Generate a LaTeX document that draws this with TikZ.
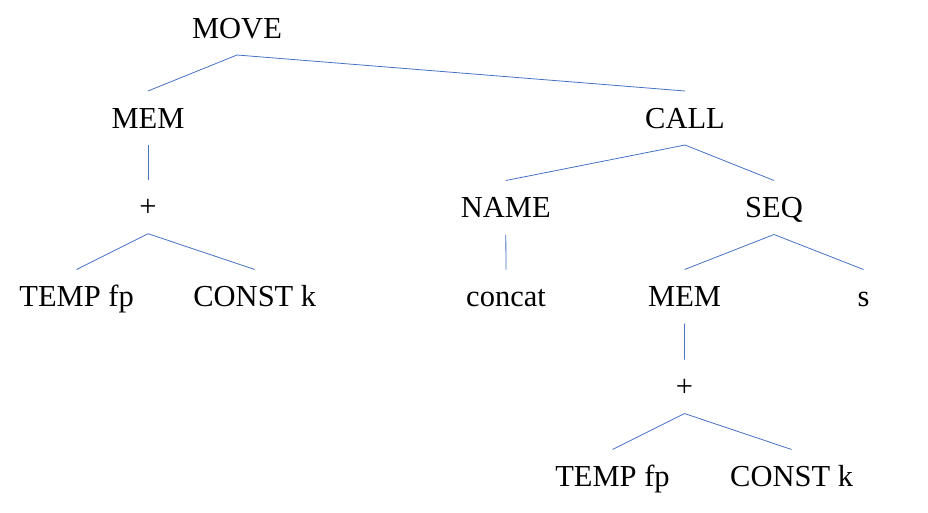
\documentclass[tikz,border=0pt]{standalone}
\usepackage{fontspec}
\setmainfont{Liberation Serif}
\definecolor{edgeblue}{HTML}{4472C4}
\begin{document}
\begin{tikzpicture}[x=1pt,y=-1pt,
  lbl/.style={anchor=base,inner sep=0pt,font=\fontsize{30.5}{36}\selectfont},
  edge/.style={draw=edgeblue,line width=0.8pt}]
\useasboundingbox (0,0) rectangle (928,512);
\node[lbl] (move) at (237,38) {MOVE};
\node[lbl] (mem1) at (148,128) {MEM};
\node[lbl] (plus1) at (148,216.7) {+};
\node[lbl] (temp1) at (76.6,306.5) {TEMP fp};
\node[lbl] (const1) at (254.8,306.5) {CONST k};
\node[lbl] (call) at (685,128) {CALL};
\node[lbl] (name) at (505.8,217.5) {NAME};
\node[lbl] (seq) at (774,217.5) {SEQ};
\node[lbl] (concat) at (506,306.5) {concat};
\node[lbl] (mem2) at (684.6,306.5) {MEM};
\node[lbl] (s) at (863.5,306.5) {s};
\node[lbl] (plus2) at (684.4,396.5) {+};
\node[lbl] (temp2) at (612.5,486.5) {TEMP fp};
\node[lbl] (const2) at (791.6,486.5) {CONST k};
\foreach \p/\c in {move/mem1,move/call,mem1/plus1,plus1/temp1,plus1/const1,
  call/name,call/seq,name/concat,seq/mem2,seq/s,mem2/plus2,plus2/temp2,plus2/const2}
  \draw[edge] ([yshift=-17pt]\p.base) -- ([yshift=37pt]\c.base);
\end{tikzpicture}
\end{document}
